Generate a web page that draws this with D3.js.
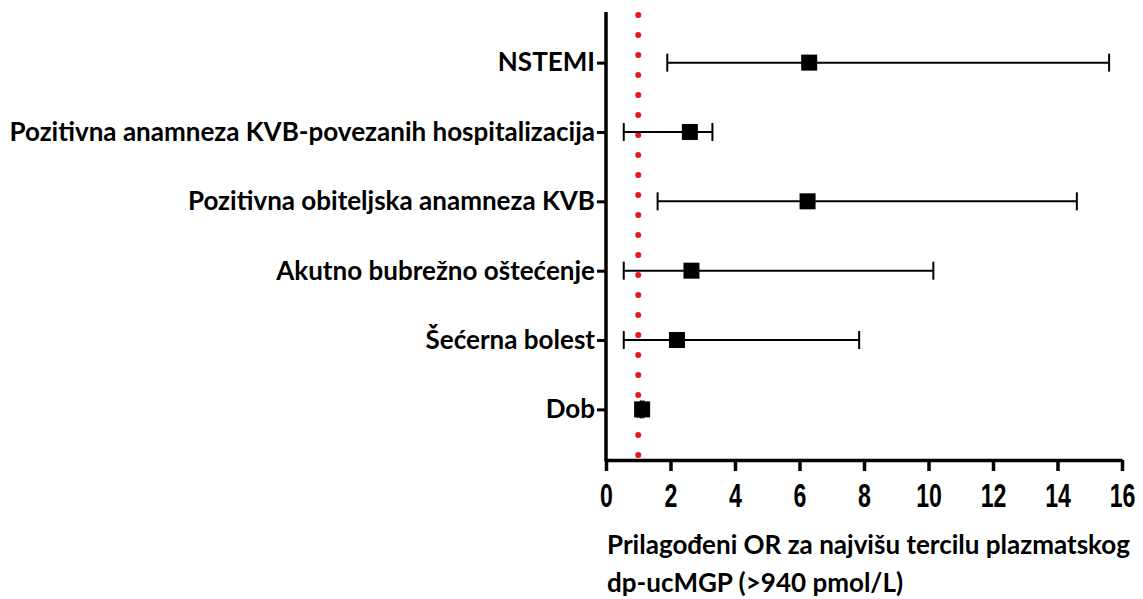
<!DOCTYPE html>
<html>
<head>
<meta charset="utf-8">
<script src="https://cdn.jsdelivr.net/npm/d3@7"></script>
<style>
  body { margin: 0; background: #fff; }
  .lab { font-family: Lato, "Open Sans", sans-serif; font-weight: bold; }
  .tick-num { font-family: "Liberation Sans", Arial, sans-serif; font-weight: bold; }
</style>
</head>
<body>
<svg id="chart" width="1143" height="599"></svg>
<script>
// --- data
var categories = ["NSTEMI",
  "Pozitivna anamneza KVB-povezanih hospitalizacija",
  "Pozitivna obiteljska anamneza KVB",
  "Akutno bubrežno oštećenje",
  "Šećerna bolest",
  "Dob"];
var oddsRatio = [6.3, 2.6, 6.25, 2.65, 2.2, 1.12];
var ciLower   = [1.9, 0.55, 1.6, 0.55, 0.55, 1.08];
var ciUpper   = [15.6, 3.3, 14.6, 10.15, 7.85, 1.16];
var xTicks = [0, 2, 4, 6, 8, 10, 12, 14, 16];
var titleLines = ["Prilagođeni OR za najvišu tercilu plazmatskog", "dp-ucMGP (>940 pmol/L)"];

var svg = d3.select("#chart");
var plotLeft = 606, plotRight = 1122, plotTop = 12, plotBottom = 460;

var x = d3.scaleLinear().domain([0, 16]).range([plotLeft, plotRight]);
var y = d3.scalePoint().domain(categories).range([plotTop, plotBottom]).padding(0.73);

// reference line at OR = 1
svg.append("line")
    .attr("x1", x(1)).attr("x2", x(1))
    .attr("y1", 15).attr("y2", plotBottom - 4)
    .attr("stroke", "#e8141b")
    .attr("stroke-width", 6)
    .attr("stroke-linecap", "round")
    .attr("stroke-dasharray", "0 20");

// x axis
var xAxis = svg.append("g")
    .attr("transform", "translate(0," + plotBottom + ")")
    .call(d3.axisBottom(x).tickValues(xTicks).tickSize(11).tickSizeOuter(0).tickPadding(12));
xAxis.select(".domain").attr("stroke", "#000").attr("stroke-width", 3.5);
xAxis.selectAll(".tick line").attr("stroke", "#000").attr("stroke-width", 3.5);
xAxis.selectAll(".tick text")
    .attr("class", "tick-num")
    .attr("font-size", 34)
    .attr("transform", "scale(0.68,1)")
    .attr("fill", "#000");

// y axis
var yAxis = svg.append("g")
    .attr("transform", "translate(" + plotLeft + ",0)")
    .call(d3.axisLeft(y).tickSize(9).tickSizeOuter(0).tickPadding(2));
yAxis.select(".domain").attr("stroke", "#000").attr("stroke-width", 3.5)
    .attr("d", "M0," + plotTop + "V" + (plotBottom + 1.5));
yAxis.selectAll(".tick line").attr("stroke", "#000").attr("stroke-width", 3);
yAxis.selectAll(".tick text")
    .attr("class", "lab")
    .attr("font-size", 24)
    .attr("fill", "#000");

// fit label font so the longest label spans like the reference
var widest = 0;
yAxis.selectAll(".tick text").each(function() { widest = Math.max(widest, this.getComputedTextLength()); });
var fs = 24 * 586 / widest;
yAxis.selectAll(".tick text").attr("font-size", fs);

// error bars
var rows = svg.append("g").selectAll("g")
    .data(categories)
    .enter().append("g");

rows.append("line")
    .attr("x1", function(d, i) { return x(ciLower[i]); })
    .attr("x2", function(d, i) { return x(ciUpper[i]); })
    .attr("y1", function(d) { return y(d); })
    .attr("y2", function(d) { return y(d); })
    .attr("stroke", "#000").attr("stroke-width", 2);

[ciLower, ciUpper].forEach(function(arr) {
  rows.append("line")
      .attr("x1", function(d, i) { return x(arr[i]); })
      .attr("x2", function(d, i) { return x(arr[i]); })
      .attr("y1", function(d) { return y(d) - 9; })
      .attr("y2", function(d) { return y(d) + 9; })
      .attr("stroke", "#000").attr("stroke-width", 2);
});

var sq = 16;
rows.append("rect")
    .attr("x", function(d, i) { return x(oddsRatio[i]) - sq / 2; })
    .attr("y", function(d) { return y(d) - sq / 2; })
    .attr("width", sq).attr("height", sq)
    .attr("fill", "#000");

// x axis title
svg.append("text")
    .attr("class", "lab")
    .attr("x", 607)
    .attr("y", 554)
    .attr("font-size", fs)
    .attr("fill", "#000")
  .selectAll("tspan")
    .data(titleLines).enter()
  .append("tspan")
    .attr("x", 607)
    .attr("dy", function(d, i) { return i ? 38 : 0; })
    .text(function(d) { return d; });
</script>
</body>
</html>
